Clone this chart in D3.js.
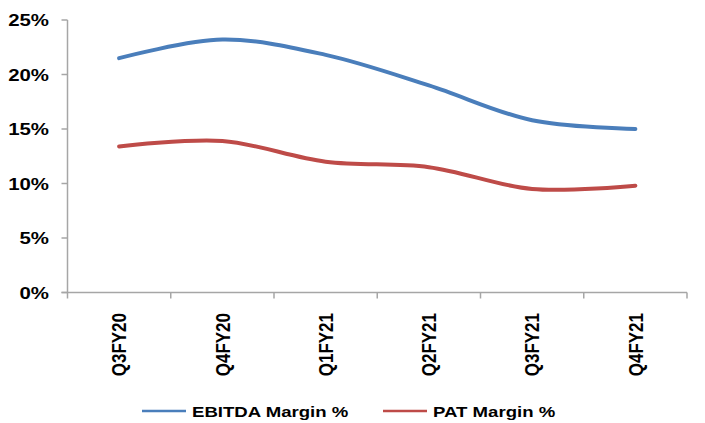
<!DOCTYPE html>
<html>
<head>
<meta charset="utf-8">
<script src="https://cdn.jsdelivr.net/npm/d3@7/dist/d3.min.js"></script>
<style>
  html, body { margin: 0; padding: 0; background: #fff; }
  svg { display: block; }
  text { font-family: "Liberation Sans", Arial, sans-serif; font-weight: bold; fill: #000; }
</style>
</head>
<body>
<svg id="chart" width="705" height="423"></svg>
<script>
// Quarterly margins
const quarters = ["Q3FY20", "Q4FY20", "Q1FY21", "Q2FY21", "Q3FY21", "Q4FY21"];
const ebitdaMargin = [21.5, 23.2, 21.8, 19.0, 15.8, 15.0];
const patMargin = [13.4, 13.9, 12.0, 11.5, 9.5, 9.8];
const yTicks = [0, 5, 10, 15, 20, 25];

const seriesNames = ["EBITDA Margin %", "PAT Margin %"];
const seriesColors = ["#4a7ebb", "#be4b48"];
const series = [ebitdaMargin, patMargin];

const svg = d3.select("#chart");
const axisColor = "#a6a6a6";
const stretch = 1.2; // horizontal text widening

const plot = { left: 67.5, right: 687, top: 20, bottom: 292.5 };

const x = d3.scaleBand().domain(quarters).range([plot.left, plot.right]);
const y = d3.scaleLinear().domain([0, 25]).range([plot.bottom, plot.top]);

// Y axis
const yAxis = svg.append("g");
yAxis.append("line")
  .attr("x1", plot.left).attr("x2", plot.left)
  .attr("y1", plot.top).attr("y2", plot.bottom)
  .attr("stroke", axisColor).attr("stroke-width", 1.5);
yAxis.selectAll("line.tick").data(yTicks).join("line")
  .attr("class", "tick")
  .attr("x1", plot.left - 6).attr("x2", plot.left)
  .attr("y1", d => y(d)).attr("y2", d => y(d))
  .attr("stroke", axisColor).attr("stroke-width", 1.5);
yAxis.selectAll("text").data(yTicks).join("text")
  .attr("transform", d => `translate(49,${y(d)}) scale(${stretch},1)`)
  .attr("dy", "0.36em")
  .attr("text-anchor", "end")
  .attr("font-size", 17)
  .text(d => d + "%");

// X axis
const xAxis = svg.append("g");
xAxis.append("line")
  .attr("x1", plot.left - 6).attr("x2", plot.right)
  .attr("y1", plot.bottom).attr("y2", plot.bottom)
  .attr("stroke", axisColor).attr("stroke-width", 1.5);
const bounds = quarters.map(q => x(q)).concat([x(quarters[quarters.length - 1]) + x.bandwidth()]);
xAxis.selectAll("line.tick").data(bounds).join("line")
  .attr("class", "tick")
  .attr("x1", d => d).attr("x2", d => d)
  .attr("y1", plot.bottom).attr("y2", plot.bottom + 6)
  .attr("stroke", axisColor).attr("stroke-width", 1.5);
xAxis.selectAll("text").data(quarters).join("text")
  .attr("transform", d => `translate(${x(d) + x.bandwidth() / 2},313) scale(${stretch},1) rotate(-90)`)
  .attr("dy", "0.36em")
  .attr("text-anchor", "end")
  .attr("font-size", 17)
  .text(d => d);

// Smoothed series lines
const line = d3.line()
  .x((d, i) => x(quarters[i]) + x.bandwidth() / 2)
  .y(d => y(d))
  .curve(d3.curveCatmullRom.alpha(0.5));

svg.append("g").selectAll("path").data(series).join("path")
  .attr("d", d => line(d))
  .attr("fill", "none")
  .attr("stroke", (d, i) => seriesColors[i])
  .attr("stroke-width", 4)
  .attr("stroke-linecap", "round");

// Legend
const legendItems = [
  { x: 142, name: seriesNames[0], color: seriesColors[0] },
  { x: 383, name: seriesNames[1], color: seriesColors[1] }
];
const legend = svg.append("g").selectAll("g").data(legendItems).join("g")
  .attr("transform", d => `translate(${d.x},411)`);
legend.append("line")
  .attr("x1", 0).attr("x2", 44)
  .attr("stroke", d => d.color).attr("stroke-width", 2.5);
legend.append("text")
  .attr("transform", `translate(50,0) scale(${stretch},1)`)
  .attr("dy", "0.36em")
  .attr("font-size", 15.5)
  .text(d => d.name);
</script>
</body>
</html>
